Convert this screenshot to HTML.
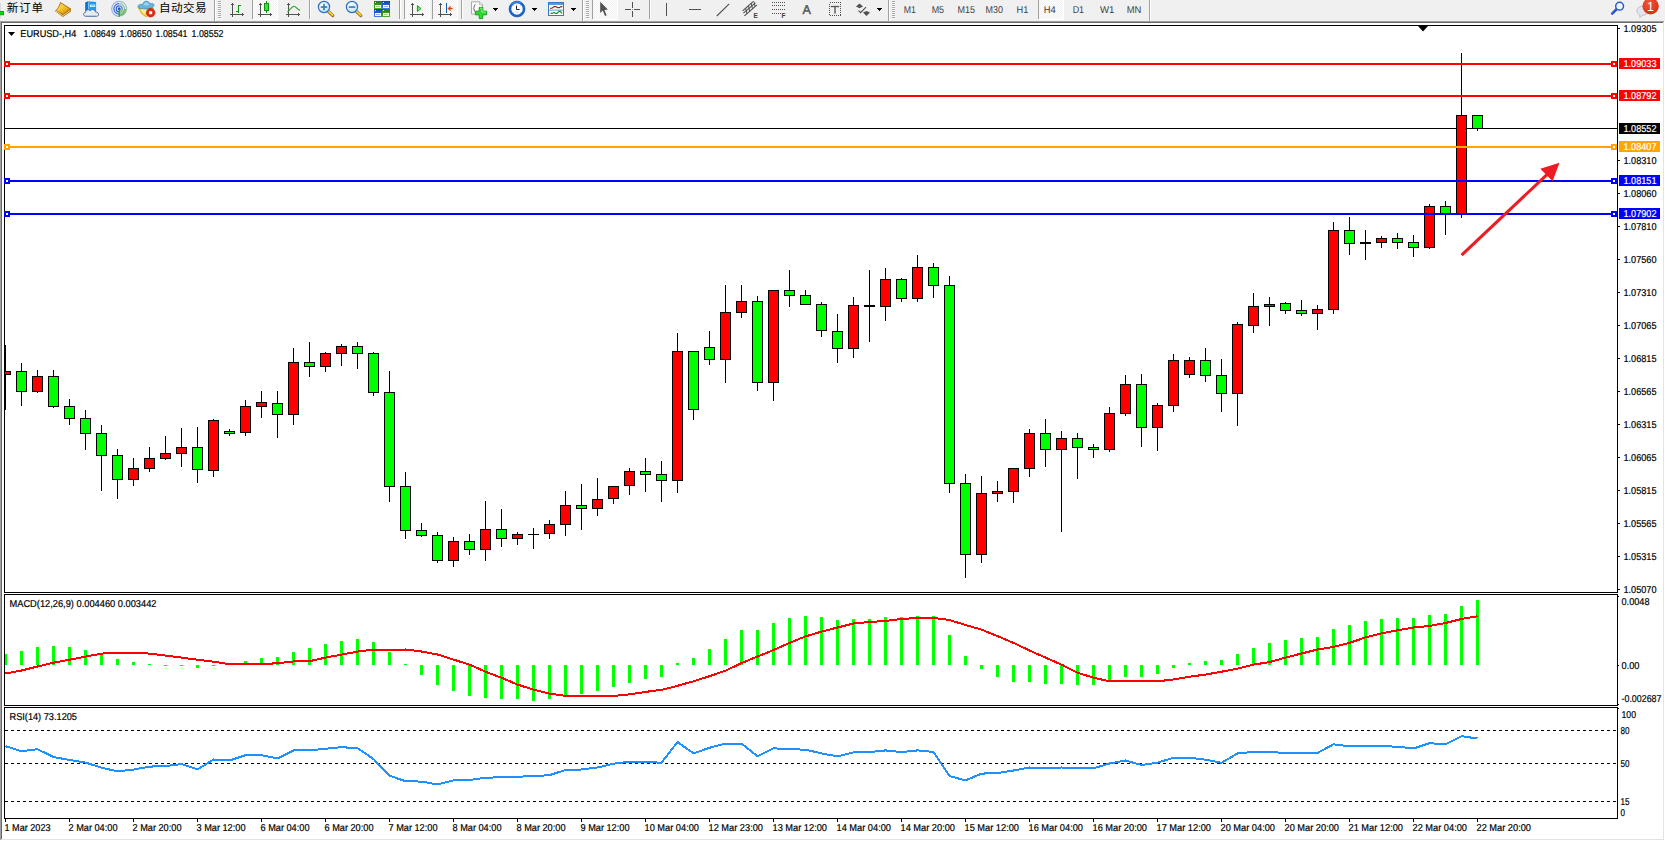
<!DOCTYPE html>
<html><head><meta charset="utf-8"><title>EURUSD H4</title>
<style>
html,body{margin:0;padding:0;}
body{width:1665px;height:841px;overflow:hidden;background:#f0f0f0;position:relative;font-family:"Liberation Sans","Noto Sans CJK SC",sans-serif;}
</style></head><body>
<svg width="1665" height="841" viewBox="0 0 1665 841" style="position:absolute;left:0;top:0">
<g shape-rendering="crispEdges">
<rect x="2" y="23" width="1661" height="816" fill="#ffffff" />
<rect x="0" y="21" width="1664" height="1" fill="#a0a0a0" />
<rect x="0" y="22" width="1663" height="1" fill="#696969" />
<rect x="0" y="21" width="1" height="820" fill="#a0a0a0" />
<rect x="1" y="22" width="1" height="818" fill="#696969" />
<rect x="1663" y="22" width="1" height="818" fill="#e3e3e3" />
<rect x="1664" y="21" width="1" height="820" fill="#ffffff" />
<rect x="1" y="839" width="1663" height="1" fill="#e3e3e3" />
<rect x="0" y="840" width="1665" height="1" fill="#ffffff" />
<rect x="4" y="25" width="1614" height="1" fill="#000" />
<rect x="4" y="25" width="1" height="794" fill="#000" />
<rect x="1617" y="25" width="1" height="794" fill="#000" />
<rect x="4" y="592" width="1614" height="1" fill="#000" />
<rect x="2" y="593" width="1616" height="1" fill="#fff" />
<rect x="4" y="594" width="1614" height="1" fill="#000" />
<rect x="4" y="705" width="1614" height="1" fill="#000" />
<rect x="2" y="706" width="1616" height="1" fill="#fff" />
<rect x="4" y="707" width="1614" height="1" fill="#000" />
<rect x="4" y="818" width="1614" height="1" fill="#000" />
<polygon points="1418,26 1428,26 1423,31.5" fill="#000" shape-rendering="auto"/>
<rect x="5" y="128" width="1612" height="1" fill="#000" />
<rect x="5" y="345" width="1" height="65" fill="#000" />
<rect x="5" y="371" width="6" height="4" fill="#000" />
<rect x="5" y="372" width="5" height="2" fill="#ff0000" />
<rect x="21" y="363" width="1" height="43" fill="#000" />
<rect x="16" y="371" width="11" height="21" fill="#000" />
<rect x="17" y="372" width="9" height="19" fill="#00ff00" />
<rect x="37" y="370" width="1" height="23" fill="#000" />
<rect x="32" y="376" width="11" height="16" fill="#000" />
<rect x="33" y="377" width="9" height="14" fill="#ff0000" />
<rect x="53" y="370" width="1" height="38" fill="#000" />
<rect x="48" y="376" width="11" height="31" fill="#000" />
<rect x="49" y="377" width="9" height="29" fill="#00ff00" />
<rect x="69" y="399" width="1" height="26" fill="#000" />
<rect x="64" y="406" width="11" height="13" fill="#000" />
<rect x="65" y="407" width="9" height="11" fill="#00ff00" />
<rect x="85" y="410" width="1" height="40" fill="#000" />
<rect x="80" y="418" width="11" height="16" fill="#000" />
<rect x="81" y="419" width="9" height="14" fill="#00ff00" />
<rect x="101" y="425" width="1" height="66" fill="#000" />
<rect x="96" y="433" width="11" height="23" fill="#000" />
<rect x="97" y="434" width="9" height="21" fill="#00ff00" />
<rect x="117" y="449" width="1" height="50" fill="#000" />
<rect x="112" y="455" width="11" height="25" fill="#000" />
<rect x="113" y="456" width="9" height="23" fill="#00ff00" />
<rect x="133" y="458" width="1" height="28" fill="#000" />
<rect x="128" y="468" width="11" height="12" fill="#000" />
<rect x="129" y="469" width="9" height="10" fill="#ff0000" />
<rect x="149" y="447" width="1" height="25" fill="#000" />
<rect x="144" y="458" width="11" height="11" fill="#000" />
<rect x="145" y="459" width="9" height="9" fill="#ff0000" />
<rect x="165" y="436" width="1" height="24" fill="#000" />
<rect x="160" y="453" width="11" height="6" fill="#000" />
<rect x="161" y="454" width="9" height="4" fill="#ff0000" />
<rect x="181" y="428" width="1" height="39" fill="#000" />
<rect x="176" y="447" width="11" height="7" fill="#000" />
<rect x="177" y="448" width="9" height="5" fill="#ff0000" />
<rect x="197" y="427" width="1" height="56" fill="#000" />
<rect x="192" y="447" width="11" height="23" fill="#000" />
<rect x="193" y="448" width="9" height="21" fill="#00ff00" />
<rect x="213" y="419" width="1" height="58" fill="#000" />
<rect x="208" y="420" width="11" height="51" fill="#000" />
<rect x="209" y="421" width="9" height="49" fill="#ff0000" />
<rect x="229" y="429" width="1" height="7" fill="#000" />
<rect x="224" y="431" width="11" height="3" fill="#000" />
<rect x="225" y="432" width="9" height="1" fill="#00ff00" />
<rect x="245" y="400" width="1" height="36" fill="#000" />
<rect x="240" y="406" width="11" height="27" fill="#000" />
<rect x="241" y="407" width="9" height="25" fill="#ff0000" />
<rect x="261" y="391" width="1" height="27" fill="#000" />
<rect x="256" y="402" width="11" height="5" fill="#000" />
<rect x="257" y="403" width="9" height="3" fill="#ff0000" />
<rect x="277" y="391" width="1" height="47" fill="#000" />
<rect x="272" y="403" width="11" height="12" fill="#000" />
<rect x="273" y="404" width="9" height="10" fill="#00ff00" />
<rect x="293" y="348" width="1" height="77" fill="#000" />
<rect x="288" y="362" width="11" height="53" fill="#000" />
<rect x="289" y="363" width="9" height="51" fill="#ff0000" />
<rect x="309" y="342" width="1" height="35" fill="#000" />
<rect x="304" y="362" width="11" height="5" fill="#000" />
<rect x="305" y="363" width="9" height="3" fill="#00ff00" />
<rect x="325" y="352" width="1" height="20" fill="#000" />
<rect x="320" y="353" width="11" height="14" fill="#000" />
<rect x="321" y="354" width="9" height="12" fill="#ff0000" />
<rect x="341" y="344" width="1" height="22" fill="#000" />
<rect x="336" y="346" width="11" height="8" fill="#000" />
<rect x="337" y="347" width="9" height="6" fill="#ff0000" />
<rect x="357" y="342" width="1" height="27" fill="#000" />
<rect x="352" y="346" width="11" height="8" fill="#000" />
<rect x="353" y="347" width="9" height="6" fill="#00ff00" />
<rect x="373" y="352" width="1" height="44" fill="#000" />
<rect x="368" y="353" width="11" height="40" fill="#000" />
<rect x="369" y="354" width="9" height="38" fill="#00ff00" />
<rect x="389" y="371" width="1" height="131" fill="#000" />
<rect x="384" y="392" width="11" height="95" fill="#000" />
<rect x="385" y="393" width="9" height="93" fill="#00ff00" />
<rect x="405" y="472" width="1" height="67" fill="#000" />
<rect x="400" y="486" width="11" height="45" fill="#000" />
<rect x="401" y="487" width="9" height="43" fill="#00ff00" />
<rect x="421" y="523" width="1" height="14" fill="#000" />
<rect x="416" y="530" width="11" height="6" fill="#000" />
<rect x="417" y="531" width="9" height="4" fill="#00ff00" />
<rect x="437" y="532" width="1" height="31" fill="#000" />
<rect x="432" y="535" width="11" height="26" fill="#000" />
<rect x="433" y="536" width="9" height="24" fill="#00ff00" />
<rect x="453" y="537" width="1" height="30" fill="#000" />
<rect x="448" y="541" width="11" height="20" fill="#000" />
<rect x="449" y="542" width="9" height="18" fill="#ff0000" />
<rect x="469" y="534" width="1" height="21" fill="#000" />
<rect x="464" y="541" width="11" height="9" fill="#000" />
<rect x="465" y="542" width="9" height="7" fill="#00ff00" />
<rect x="485" y="501" width="1" height="60" fill="#000" />
<rect x="480" y="529" width="11" height="21" fill="#000" />
<rect x="481" y="530" width="9" height="19" fill="#ff0000" />
<rect x="501" y="509" width="1" height="38" fill="#000" />
<rect x="496" y="529" width="11" height="10" fill="#000" />
<rect x="497" y="530" width="9" height="8" fill="#00ff00" />
<rect x="517" y="532" width="1" height="13" fill="#000" />
<rect x="512" y="534" width="11" height="5" fill="#000" />
<rect x="513" y="535" width="9" height="3" fill="#ff0000" />
<rect x="533" y="528" width="1" height="21" fill="#000" />
<rect x="528" y="534" width="11" height="1" fill="#000" />
<rect x="549" y="520" width="1" height="19" fill="#000" />
<rect x="544" y="524" width="11" height="10" fill="#000" />
<rect x="545" y="525" width="9" height="8" fill="#ff0000" />
<rect x="565" y="491" width="1" height="45" fill="#000" />
<rect x="560" y="505" width="11" height="20" fill="#000" />
<rect x="561" y="506" width="9" height="18" fill="#ff0000" />
<rect x="581" y="484" width="1" height="46" fill="#000" />
<rect x="576" y="505" width="11" height="4" fill="#000" />
<rect x="577" y="506" width="9" height="2" fill="#00ff00" />
<rect x="597" y="478" width="1" height="38" fill="#000" />
<rect x="592" y="499" width="11" height="10" fill="#000" />
<rect x="593" y="500" width="9" height="8" fill="#ff0000" />
<rect x="613" y="486" width="1" height="18" fill="#000" />
<rect x="608" y="486" width="11" height="13" fill="#000" />
<rect x="609" y="487" width="9" height="11" fill="#ff0000" />
<rect x="629" y="468" width="1" height="27" fill="#000" />
<rect x="624" y="471" width="11" height="15" fill="#000" />
<rect x="625" y="472" width="9" height="13" fill="#ff0000" />
<rect x="645" y="458" width="1" height="34" fill="#000" />
<rect x="640" y="471" width="11" height="4" fill="#000" />
<rect x="641" y="472" width="9" height="2" fill="#00ff00" />
<rect x="661" y="461" width="1" height="41" fill="#000" />
<rect x="656" y="474" width="11" height="7" fill="#000" />
<rect x="657" y="475" width="9" height="5" fill="#00ff00" />
<rect x="677" y="333" width="1" height="160" fill="#000" />
<rect x="672" y="351" width="11" height="130" fill="#000" />
<rect x="673" y="352" width="9" height="128" fill="#ff0000" />
<rect x="693" y="351" width="1" height="69" fill="#000" />
<rect x="688" y="351" width="11" height="59" fill="#000" />
<rect x="689" y="352" width="9" height="57" fill="#00ff00" />
<rect x="709" y="331" width="1" height="34" fill="#000" />
<rect x="704" y="347" width="11" height="13" fill="#000" />
<rect x="705" y="348" width="9" height="11" fill="#00ff00" />
<rect x="725" y="285" width="1" height="98" fill="#000" />
<rect x="720" y="312" width="11" height="48" fill="#000" />
<rect x="721" y="313" width="9" height="46" fill="#ff0000" />
<rect x="741" y="285" width="1" height="33" fill="#000" />
<rect x="736" y="301" width="11" height="12" fill="#000" />
<rect x="737" y="302" width="9" height="10" fill="#ff0000" />
<rect x="757" y="296" width="1" height="95" fill="#000" />
<rect x="752" y="301" width="11" height="82" fill="#000" />
<rect x="753" y="302" width="9" height="80" fill="#00ff00" />
<rect x="773" y="290" width="1" height="111" fill="#000" />
<rect x="768" y="290" width="11" height="93" fill="#000" />
<rect x="769" y="291" width="9" height="91" fill="#ff0000" />
<rect x="789" y="270" width="1" height="37" fill="#000" />
<rect x="784" y="290" width="11" height="6" fill="#000" />
<rect x="785" y="291" width="9" height="4" fill="#00ff00" />
<rect x="805" y="290" width="1" height="15" fill="#000" />
<rect x="800" y="295" width="11" height="10" fill="#000" />
<rect x="801" y="296" width="9" height="8" fill="#00ff00" />
<rect x="821" y="302" width="1" height="35" fill="#000" />
<rect x="816" y="304" width="11" height="27" fill="#000" />
<rect x="817" y="305" width="9" height="25" fill="#00ff00" />
<rect x="837" y="314" width="1" height="49" fill="#000" />
<rect x="832" y="331" width="11" height="18" fill="#000" />
<rect x="833" y="332" width="9" height="16" fill="#00ff00" />
<rect x="853" y="297" width="1" height="61" fill="#000" />
<rect x="848" y="305" width="11" height="44" fill="#000" />
<rect x="849" y="306" width="9" height="42" fill="#ff0000" />
<rect x="869" y="270" width="1" height="72" fill="#000" />
<rect x="864" y="305" width="11" height="2" fill="#000" />
<rect x="885" y="268" width="1" height="53" fill="#000" />
<rect x="880" y="279" width="11" height="28" fill="#000" />
<rect x="881" y="280" width="9" height="26" fill="#ff0000" />
<rect x="901" y="278" width="1" height="24" fill="#000" />
<rect x="896" y="279" width="11" height="20" fill="#000" />
<rect x="897" y="280" width="9" height="18" fill="#00ff00" />
<rect x="917" y="255" width="1" height="47" fill="#000" />
<rect x="912" y="267" width="11" height="32" fill="#000" />
<rect x="913" y="268" width="9" height="30" fill="#ff0000" />
<rect x="933" y="263" width="1" height="35" fill="#000" />
<rect x="928" y="267" width="11" height="19" fill="#000" />
<rect x="929" y="268" width="9" height="17" fill="#00ff00" />
<rect x="949" y="276" width="1" height="217" fill="#000" />
<rect x="944" y="285" width="11" height="199" fill="#000" />
<rect x="945" y="286" width="9" height="197" fill="#00ff00" />
<rect x="965" y="474" width="1" height="104" fill="#000" />
<rect x="960" y="483" width="11" height="72" fill="#000" />
<rect x="961" y="484" width="9" height="70" fill="#00ff00" />
<rect x="981" y="476" width="1" height="87" fill="#000" />
<rect x="976" y="493" width="11" height="62" fill="#000" />
<rect x="977" y="494" width="9" height="60" fill="#ff0000" />
<rect x="997" y="481" width="1" height="21" fill="#000" />
<rect x="992" y="491" width="11" height="3" fill="#000" />
<rect x="993" y="492" width="9" height="1" fill="#ff0000" />
<rect x="1013" y="468" width="1" height="35" fill="#000" />
<rect x="1008" y="468" width="11" height="24" fill="#000" />
<rect x="1009" y="469" width="9" height="22" fill="#ff0000" />
<rect x="1029" y="429" width="1" height="48" fill="#000" />
<rect x="1024" y="433" width="11" height="36" fill="#000" />
<rect x="1025" y="434" width="9" height="34" fill="#ff0000" />
<rect x="1045" y="419" width="1" height="48" fill="#000" />
<rect x="1040" y="433" width="11" height="17" fill="#000" />
<rect x="1041" y="434" width="9" height="15" fill="#00ff00" />
<rect x="1061" y="431" width="1" height="101" fill="#000" />
<rect x="1056" y="438" width="11" height="12" fill="#000" />
<rect x="1057" y="439" width="9" height="10" fill="#ff0000" />
<rect x="1077" y="433" width="1" height="46" fill="#000" />
<rect x="1072" y="438" width="11" height="10" fill="#000" />
<rect x="1073" y="439" width="9" height="8" fill="#00ff00" />
<rect x="1093" y="444" width="1" height="14" fill="#000" />
<rect x="1088" y="447" width="11" height="3" fill="#000" />
<rect x="1089" y="448" width="9" height="1" fill="#00ff00" />
<rect x="1109" y="407" width="1" height="45" fill="#000" />
<rect x="1104" y="413" width="11" height="37" fill="#000" />
<rect x="1105" y="414" width="9" height="35" fill="#ff0000" />
<rect x="1125" y="375" width="1" height="41" fill="#000" />
<rect x="1120" y="384" width="11" height="30" fill="#000" />
<rect x="1121" y="385" width="9" height="28" fill="#ff0000" />
<rect x="1141" y="374" width="1" height="73" fill="#000" />
<rect x="1136" y="384" width="11" height="44" fill="#000" />
<rect x="1137" y="385" width="9" height="42" fill="#00ff00" />
<rect x="1157" y="403" width="1" height="48" fill="#000" />
<rect x="1152" y="405" width="11" height="23" fill="#000" />
<rect x="1153" y="406" width="9" height="21" fill="#ff0000" />
<rect x="1173" y="354" width="1" height="58" fill="#000" />
<rect x="1168" y="360" width="11" height="46" fill="#000" />
<rect x="1169" y="361" width="9" height="44" fill="#ff0000" />
<rect x="1189" y="357" width="1" height="21" fill="#000" />
<rect x="1184" y="360" width="11" height="15" fill="#000" />
<rect x="1185" y="361" width="9" height="13" fill="#ff0000" />
<rect x="1205" y="348" width="1" height="34" fill="#000" />
<rect x="1200" y="360" width="11" height="16" fill="#000" />
<rect x="1201" y="361" width="9" height="14" fill="#00ff00" />
<rect x="1221" y="359" width="1" height="53" fill="#000" />
<rect x="1216" y="375" width="11" height="19" fill="#000" />
<rect x="1217" y="376" width="9" height="17" fill="#00ff00" />
<rect x="1237" y="322" width="1" height="104" fill="#000" />
<rect x="1232" y="324" width="11" height="70" fill="#000" />
<rect x="1233" y="325" width="9" height="68" fill="#ff0000" />
<rect x="1253" y="293" width="1" height="40" fill="#000" />
<rect x="1248" y="306" width="11" height="20" fill="#000" />
<rect x="1249" y="307" width="9" height="18" fill="#ff0000" />
<rect x="1269" y="297" width="1" height="29" fill="#000" />
<rect x="1264" y="304" width="11" height="3" fill="#000" />
<rect x="1265" y="305" width="9" height="1" fill="#ff0000" />
<rect x="1285" y="302" width="1" height="12" fill="#000" />
<rect x="1280" y="303" width="11" height="8" fill="#000" />
<rect x="1281" y="304" width="9" height="6" fill="#00ff00" />
<rect x="1301" y="300" width="1" height="16" fill="#000" />
<rect x="1296" y="310" width="11" height="4" fill="#000" />
<rect x="1297" y="311" width="9" height="2" fill="#00ff00" />
<rect x="1317" y="305" width="1" height="25" fill="#000" />
<rect x="1312" y="309" width="11" height="5" fill="#000" />
<rect x="1313" y="310" width="9" height="3" fill="#ff0000" />
<rect x="1333" y="222" width="1" height="92" fill="#000" />
<rect x="1328" y="230" width="11" height="80" fill="#000" />
<rect x="1329" y="231" width="9" height="78" fill="#ff0000" />
<rect x="1349" y="217" width="1" height="38" fill="#000" />
<rect x="1344" y="230" width="11" height="14" fill="#000" />
<rect x="1345" y="231" width="9" height="12" fill="#00ff00" />
<rect x="1365" y="230" width="1" height="30" fill="#000" />
<rect x="1360" y="242" width="11" height="2" fill="#000" />
<rect x="1381" y="236" width="1" height="12" fill="#000" />
<rect x="1376" y="238" width="11" height="5" fill="#000" />
<rect x="1377" y="239" width="9" height="3" fill="#ff0000" />
<rect x="1397" y="233" width="1" height="16" fill="#000" />
<rect x="1392" y="238" width="11" height="5" fill="#000" />
<rect x="1393" y="239" width="9" height="3" fill="#00ff00" />
<rect x="1413" y="235" width="1" height="22" fill="#000" />
<rect x="1408" y="242" width="11" height="6" fill="#000" />
<rect x="1409" y="243" width="9" height="4" fill="#00ff00" />
<rect x="1429" y="204" width="1" height="45" fill="#000" />
<rect x="1424" y="206" width="11" height="42" fill="#000" />
<rect x="1425" y="207" width="9" height="40" fill="#ff0000" />
<rect x="1445" y="201" width="1" height="34" fill="#000" />
<rect x="1440" y="206" width="11" height="8" fill="#000" />
<rect x="1441" y="207" width="9" height="6" fill="#00ff00" />
<rect x="1461" y="53" width="1" height="165" fill="#000" />
<rect x="1456" y="115" width="11" height="100" fill="#000" />
<rect x="1457" y="116" width="9" height="98" fill="#ff0000" />
<rect x="1477" y="115" width="1" height="16" fill="#000" />
<rect x="1472" y="115" width="11" height="14" fill="#000" />
<rect x="1473" y="116" width="9" height="12" fill="#00ff00" />
<rect x="5" y="63" width="1612" height="2" fill="#ff0000" />
<rect x="4" y="61" width="6" height="6" fill="#ff0000" />
<rect x="6" y="63" width="2" height="2" fill="#fff" />
<rect x="1611" y="61" width="6" height="6" fill="#ff0000" />
<rect x="1613" y="63" width="2" height="2" fill="#fff" />
<rect x="1619" y="58" width="41" height="11" fill="#ff0000" />
<rect x="5" y="95" width="1612" height="2" fill="#ff0000" />
<rect x="4" y="93" width="6" height="6" fill="#ff0000" />
<rect x="6" y="95" width="2" height="2" fill="#fff" />
<rect x="1611" y="93" width="6" height="6" fill="#ff0000" />
<rect x="1613" y="95" width="2" height="2" fill="#fff" />
<rect x="1619" y="90" width="41" height="11" fill="#ff0000" />
<rect x="5" y="146" width="1612" height="2" fill="#ffa500" />
<rect x="4" y="144" width="6" height="6" fill="#ffa500" />
<rect x="6" y="146" width="2" height="2" fill="#fff" />
<rect x="1611" y="144" width="6" height="6" fill="#ffa500" />
<rect x="1613" y="146" width="2" height="2" fill="#fff" />
<rect x="1619" y="141" width="41" height="11" fill="#ffa500" />
<rect x="5" y="180" width="1612" height="2" fill="#0000ff" />
<rect x="4" y="178" width="6" height="6" fill="#0000ff" />
<rect x="6" y="180" width="2" height="2" fill="#fff" />
<rect x="1611" y="178" width="6" height="6" fill="#0000ff" />
<rect x="1613" y="180" width="2" height="2" fill="#fff" />
<rect x="1619" y="175" width="41" height="11" fill="#0000ff" />
<rect x="5" y="213" width="1612" height="2" fill="#0000ff" />
<rect x="4" y="211" width="6" height="6" fill="#0000ff" />
<rect x="6" y="213" width="2" height="2" fill="#fff" />
<rect x="1611" y="211" width="6" height="6" fill="#0000ff" />
<rect x="1613" y="213" width="2" height="2" fill="#fff" />
<rect x="1619" y="208" width="41" height="11" fill="#0000ff" />
<rect x="1619" y="123" width="41" height="11" fill="#000" />
<rect x="1618" y="28" width="2" height="1" fill="#000" />
<rect x="1618" y="160" width="2" height="1" fill="#000" />
<rect x="1618" y="193" width="2" height="1" fill="#000" />
<rect x="1618" y="226" width="2" height="1" fill="#000" />
<rect x="1618" y="259" width="2" height="1" fill="#000" />
<rect x="1618" y="292" width="2" height="1" fill="#000" />
<rect x="1618" y="325" width="2" height="1" fill="#000" />
<rect x="1618" y="358" width="2" height="1" fill="#000" />
<rect x="1618" y="391" width="2" height="1" fill="#000" />
<rect x="1618" y="424" width="2" height="1" fill="#000" />
<rect x="1618" y="457" width="2" height="1" fill="#000" />
<rect x="1618" y="490" width="2" height="1" fill="#000" />
<rect x="1618" y="523" width="2" height="1" fill="#000" />
<rect x="1618" y="556" width="2" height="1" fill="#000" />
<rect x="1618" y="589" width="2" height="1" fill="#000" />
<rect x="1618" y="596" width="1" height="1" fill="#000" />
<rect x="1618" y="665" width="1" height="1" fill="#000" />
<rect x="1618" y="704" width="1" height="1" fill="#000" />
<rect x="1618" y="708" width="1" height="1" fill="#000" />
<rect x="5" y="654" width="2" height="11" fill="#00ff00" />
<rect x="20" y="651" width="3" height="14" fill="#00ff00" />
<rect x="36" y="647" width="3" height="18" fill="#00ff00" />
<rect x="52" y="646" width="3" height="19" fill="#00ff00" />
<rect x="68" y="647" width="3" height="18" fill="#00ff00" />
<rect x="84" y="650" width="3" height="15" fill="#00ff00" />
<rect x="100" y="654" width="3" height="11" fill="#00ff00" />
<rect x="116" y="659" width="3" height="6" fill="#00ff00" />
<rect x="132" y="662" width="3" height="3" fill="#00ff00" />
<rect x="148" y="664" width="3" height="1" fill="#00ff00" />
<rect x="164" y="665" width="3" height="1" fill="#00ff00" />
<rect x="180" y="665" width="3" height="1" fill="#00ff00" />
<rect x="196" y="665" width="3" height="3" fill="#00ff00" />
<rect x="212" y="665" width="3" height="1" fill="#00ff00" />
<rect x="228" y="664" width="3" height="1" fill="#00ff00" />
<rect x="244" y="661" width="3" height="4" fill="#00ff00" />
<rect x="260" y="658" width="3" height="7" fill="#00ff00" />
<rect x="276" y="657" width="3" height="8" fill="#00ff00" />
<rect x="292" y="652" width="3" height="13" fill="#00ff00" />
<rect x="308" y="648" width="3" height="17" fill="#00ff00" />
<rect x="324" y="644" width="3" height="21" fill="#00ff00" />
<rect x="340" y="641" width="3" height="24" fill="#00ff00" />
<rect x="356" y="639" width="3" height="26" fill="#00ff00" />
<rect x="372" y="642" width="3" height="23" fill="#00ff00" />
<rect x="388" y="652" width="3" height="13" fill="#00ff00" />
<rect x="404" y="664" width="3" height="1" fill="#00ff00" />
<rect x="420" y="665" width="3" height="10" fill="#00ff00" />
<rect x="436" y="665" width="3" height="20" fill="#00ff00" />
<rect x="452" y="665" width="3" height="26" fill="#00ff00" />
<rect x="468" y="665" width="3" height="31" fill="#00ff00" />
<rect x="484" y="665" width="3" height="33" fill="#00ff00" />
<rect x="500" y="665" width="3" height="34" fill="#00ff00" />
<rect x="516" y="665" width="3" height="34" fill="#00ff00" />
<rect x="532" y="665" width="3" height="36" fill="#00ff00" />
<rect x="548" y="665" width="3" height="34" fill="#00ff00" />
<rect x="564" y="665" width="3" height="32" fill="#00ff00" />
<rect x="580" y="665" width="3" height="29" fill="#00ff00" />
<rect x="596" y="665" width="3" height="26" fill="#00ff00" />
<rect x="612" y="665" width="3" height="22" fill="#00ff00" />
<rect x="628" y="665" width="3" height="18" fill="#00ff00" />
<rect x="644" y="665" width="3" height="14" fill="#00ff00" />
<rect x="660" y="665" width="3" height="12" fill="#00ff00" />
<rect x="676" y="663" width="3" height="2" fill="#00ff00" />
<rect x="692" y="658" width="3" height="7" fill="#00ff00" />
<rect x="708" y="649" width="3" height="16" fill="#00ff00" />
<rect x="724" y="639" width="3" height="26" fill="#00ff00" />
<rect x="740" y="630" width="3" height="35" fill="#00ff00" />
<rect x="756" y="630" width="3" height="35" fill="#00ff00" />
<rect x="772" y="623" width="3" height="42" fill="#00ff00" />
<rect x="788" y="618" width="3" height="47" fill="#00ff00" />
<rect x="804" y="616" width="3" height="49" fill="#00ff00" />
<rect x="820" y="617" width="3" height="48" fill="#00ff00" />
<rect x="836" y="620" width="3" height="45" fill="#00ff00" />
<rect x="852" y="619" width="3" height="46" fill="#00ff00" />
<rect x="868" y="619" width="3" height="46" fill="#00ff00" />
<rect x="884" y="617" width="3" height="48" fill="#00ff00" />
<rect x="900" y="617" width="3" height="48" fill="#00ff00" />
<rect x="916" y="616" width="3" height="49" fill="#00ff00" />
<rect x="932" y="616" width="3" height="49" fill="#00ff00" />
<rect x="948" y="635" width="3" height="30" fill="#00ff00" />
<rect x="964" y="656" width="3" height="9" fill="#00ff00" />
<rect x="980" y="665" width="3" height="4" fill="#00ff00" />
<rect x="996" y="665" width="3" height="12" fill="#00ff00" />
<rect x="1012" y="665" width="3" height="17" fill="#00ff00" />
<rect x="1028" y="665" width="3" height="17" fill="#00ff00" />
<rect x="1044" y="665" width="3" height="19" fill="#00ff00" />
<rect x="1060" y="665" width="3" height="19" fill="#00ff00" />
<rect x="1076" y="665" width="3" height="20" fill="#00ff00" />
<rect x="1092" y="665" width="3" height="20" fill="#00ff00" />
<rect x="1108" y="665" width="3" height="16" fill="#00ff00" />
<rect x="1124" y="665" width="3" height="12" fill="#00ff00" />
<rect x="1140" y="665" width="3" height="12" fill="#00ff00" />
<rect x="1156" y="665" width="3" height="9" fill="#00ff00" />
<rect x="1172" y="665" width="3" height="3" fill="#00ff00" />
<rect x="1188" y="663" width="3" height="2" fill="#00ff00" />
<rect x="1204" y="661" width="3" height="4" fill="#00ff00" />
<rect x="1220" y="660" width="3" height="5" fill="#00ff00" />
<rect x="1236" y="654" width="3" height="11" fill="#00ff00" />
<rect x="1252" y="648" width="3" height="17" fill="#00ff00" />
<rect x="1268" y="643" width="3" height="22" fill="#00ff00" />
<rect x="1284" y="640" width="3" height="25" fill="#00ff00" />
<rect x="1300" y="638" width="3" height="27" fill="#00ff00" />
<rect x="1316" y="637" width="3" height="28" fill="#00ff00" />
<rect x="1332" y="629" width="3" height="36" fill="#00ff00" />
<rect x="1348" y="625" width="3" height="40" fill="#00ff00" />
<rect x="1364" y="621" width="3" height="44" fill="#00ff00" />
<rect x="1380" y="619" width="3" height="46" fill="#00ff00" />
<rect x="1396" y="618" width="3" height="47" fill="#00ff00" />
<rect x="1412" y="618" width="3" height="47" fill="#00ff00" />
<rect x="1428" y="615" width="3" height="50" fill="#00ff00" />
<rect x="1444" y="614" width="3" height="51" fill="#00ff00" />
<rect x="1460" y="606" width="3" height="59" fill="#00ff00" />
<rect x="1476" y="600" width="3" height="65" fill="#00ff00" />
<line x1="5" y1="730.5" x2="1617" y2="730.5" stroke="#000" stroke-width="1" stroke-dasharray="3 3"/>
<line x1="5" y1="763.5" x2="1617" y2="763.5" stroke="#000" stroke-width="1" stroke-dasharray="3 3"/>
<line x1="5" y1="801.5" x2="1617" y2="801.5" stroke="#000" stroke-width="1" stroke-dasharray="3 3"/>
<rect x="5" y="819" width="1" height="3" fill="#000" />
<rect x="69" y="819" width="1" height="3" fill="#000" />
<rect x="133" y="819" width="1" height="3" fill="#000" />
<rect x="197" y="819" width="1" height="3" fill="#000" />
<rect x="261" y="819" width="1" height="3" fill="#000" />
<rect x="325" y="819" width="1" height="3" fill="#000" />
<rect x="389" y="819" width="1" height="3" fill="#000" />
<rect x="453" y="819" width="1" height="3" fill="#000" />
<rect x="517" y="819" width="1" height="3" fill="#000" />
<rect x="581" y="819" width="1" height="3" fill="#000" />
<rect x="645" y="819" width="1" height="3" fill="#000" />
<rect x="709" y="819" width="1" height="3" fill="#000" />
<rect x="773" y="819" width="1" height="3" fill="#000" />
<rect x="837" y="819" width="1" height="3" fill="#000" />
<rect x="901" y="819" width="1" height="3" fill="#000" />
<rect x="965" y="819" width="1" height="3" fill="#000" />
<rect x="1029" y="819" width="1" height="3" fill="#000" />
<rect x="1093" y="819" width="1" height="3" fill="#000" />
<rect x="1157" y="819" width="1" height="3" fill="#000" />
<rect x="1221" y="819" width="1" height="3" fill="#000" />
<rect x="1285" y="819" width="1" height="3" fill="#000" />
<rect x="1349" y="819" width="1" height="3" fill="#000" />
<rect x="1413" y="819" width="1" height="3" fill="#000" />
<rect x="1477" y="819" width="1" height="3" fill="#000" />
</g>
<polyline points="5.5,673.5 21.5,670.5 37.5,666.5 53.5,662.7 69.5,659.7 85.5,656.6 101.5,653.6 117.5,652.6 133.5,652.6 149.5,653.6 165.5,655.6 181.5,657.6 197.5,659.7 213.5,661.7 229.5,664.2 245.5,664.2 261.5,664.2 277.5,663.2 293.5,661.4 309.5,661.2 325.5,657.6 341.5,654.6 357.5,651.6 373.5,649.6 389.5,649.6 405.5,649.5 421.5,651.5 437.5,654.5 453.5,659.6 469.5,664.6 485.5,671.7 501.5,677.7 517.5,684.6 533.5,689.6 549.5,693.6 565.5,695.9 581.5,696.2 597.5,696.2 613.5,695.9 629.5,694.4 645.5,691.9 661.5,689.8 677.5,685.8 693.5,681.3 709.5,676.2 725.5,670.7 741.5,663.1 757.5,656.5 773.5,650.0 789.5,642.9 805.5,636.4 821.5,631.6 837.5,627.5 853.5,623.5 869.5,622.0 885.5,621.0 901.5,619.0 917.5,618.0 933.5,618.0 949.5,620.0 965.5,625.0 981.5,629.6 997.5,636.1 1013.5,642.9 1029.5,650.5 1045.5,657.6 1061.5,664.6 1077.5,672.7 1093.5,677.7 1109.5,681.3 1125.5,681.3 1141.5,681.3 1157.5,681.3 1173.5,679.5 1189.5,676.7 1205.5,674.6 1221.5,671.7 1237.5,668.7 1253.5,664.6 1269.5,662.1 1285.5,657.6 1301.5,653.5 1317.5,649.5 1333.5,647.0 1349.5,642.9 1365.5,637.4 1381.5,633.3 1397.5,630.3 1413.5,627.5 1429.5,626.0 1445.5,623.0 1461.5,619.0 1477.5,616.2" fill="none" stroke="#ff0000" stroke-width="2" stroke-linejoin="round" shape-rendering="crispEdges"/>
<polyline points="5.5,746.2 21.5,751.2 37.5,749.2 53.5,757.0 69.5,760.0 85.5,762.6 101.5,767.6 117.5,771.4 133.5,769.6 149.5,766.6 165.5,766.1 181.5,764.1 197.5,769.4 213.5,759.5 229.5,760.5 245.5,755.2 261.5,755.2 277.5,758.5 293.5,750.4 309.5,750.4 325.5,748.7 341.5,747.2 357.5,748.2 373.5,759.0 389.5,775.7 405.5,781.2 421.5,781.6 437.5,784.4 453.5,780.4 469.5,780.1 485.5,777.6 501.5,777.4 517.5,776.6 533.5,776.3 549.5,775.1 565.5,770.0 581.5,769.5 597.5,767.5 613.5,763.7 629.5,761.7 645.5,762.0 661.5,762.7 677.5,742.0 693.5,753.4 709.5,747.8 725.5,743.5 741.5,743.5 757.5,756.4 773.5,748.3 789.5,749.3 805.5,749.6 821.5,753.4 837.5,756.4 853.5,752.4 869.5,752.1 885.5,750.4 901.5,752.1 917.5,750.4 933.5,751.9 949.5,776.1 965.5,780.4 981.5,773.6 997.5,773.1 1013.5,770.5 1029.5,767.5 1045.5,768.5 1061.5,767.5 1077.5,768.3 1093.5,768.3 1109.5,763.5 1125.5,760.5 1141.5,765.0 1157.5,762.7 1173.5,757.7 1189.5,757.7 1205.5,759.7 1221.5,762.8 1237.5,753.5 1253.5,751.9 1269.5,751.9 1285.5,753.0 1301.5,753.0 1317.5,753.0 1333.5,744.3 1349.5,746.3 1365.5,746.3 1381.5,746.3 1397.5,746.6 1413.5,748.5 1429.5,743.2 1445.5,744.3 1461.5,736.2 1477.5,738.5" fill="none" stroke="#1e90ff" stroke-width="2" stroke-linejoin="round" shape-rendering="crispEdges"/>
<line x1="1461.6" y1="255.2" x2="1548" y2="173.6" stroke="#ed1c24" stroke-width="3"/>
<polygon points="1559.5,162.8 1540.3,168.8 1552.6,181.2" fill="#ed1c24"/>
<text x="1623.5" y="32" font-family="Liberation Sans, sans-serif" text-rendering="geometricPrecision" font-size="10" fill="#000" stroke="#000" stroke-width="0.2" text-anchor="start" textLength="33" lengthAdjust="spacingAndGlyphs" >1.09305</text>
<text x="1623.5" y="164" font-family="Liberation Sans, sans-serif" text-rendering="geometricPrecision" font-size="10" fill="#000" stroke="#000" stroke-width="0.2" text-anchor="start" textLength="33" lengthAdjust="spacingAndGlyphs" >1.08310</text>
<text x="1623.5" y="197" font-family="Liberation Sans, sans-serif" text-rendering="geometricPrecision" font-size="10" fill="#000" stroke="#000" stroke-width="0.2" text-anchor="start" textLength="33" lengthAdjust="spacingAndGlyphs" >1.08060</text>
<text x="1623.5" y="230" font-family="Liberation Sans, sans-serif" text-rendering="geometricPrecision" font-size="10" fill="#000" stroke="#000" stroke-width="0.2" text-anchor="start" textLength="33" lengthAdjust="spacingAndGlyphs" >1.07810</text>
<text x="1623.5" y="263" font-family="Liberation Sans, sans-serif" text-rendering="geometricPrecision" font-size="10" fill="#000" stroke="#000" stroke-width="0.2" text-anchor="start" textLength="33" lengthAdjust="spacingAndGlyphs" >1.07560</text>
<text x="1623.5" y="296" font-family="Liberation Sans, sans-serif" text-rendering="geometricPrecision" font-size="10" fill="#000" stroke="#000" stroke-width="0.2" text-anchor="start" textLength="33" lengthAdjust="spacingAndGlyphs" >1.07310</text>
<text x="1623.5" y="329" font-family="Liberation Sans, sans-serif" text-rendering="geometricPrecision" font-size="10" fill="#000" stroke="#000" stroke-width="0.2" text-anchor="start" textLength="33" lengthAdjust="spacingAndGlyphs" >1.07065</text>
<text x="1623.5" y="362" font-family="Liberation Sans, sans-serif" text-rendering="geometricPrecision" font-size="10" fill="#000" stroke="#000" stroke-width="0.2" text-anchor="start" textLength="33" lengthAdjust="spacingAndGlyphs" >1.06815</text>
<text x="1623.5" y="395" font-family="Liberation Sans, sans-serif" text-rendering="geometricPrecision" font-size="10" fill="#000" stroke="#000" stroke-width="0.2" text-anchor="start" textLength="33" lengthAdjust="spacingAndGlyphs" >1.06565</text>
<text x="1623.5" y="428" font-family="Liberation Sans, sans-serif" text-rendering="geometricPrecision" font-size="10" fill="#000" stroke="#000" stroke-width="0.2" text-anchor="start" textLength="33" lengthAdjust="spacingAndGlyphs" >1.06315</text>
<text x="1623.5" y="461" font-family="Liberation Sans, sans-serif" text-rendering="geometricPrecision" font-size="10" fill="#000" stroke="#000" stroke-width="0.2" text-anchor="start" textLength="33" lengthAdjust="spacingAndGlyphs" >1.06065</text>
<text x="1623.5" y="494" font-family="Liberation Sans, sans-serif" text-rendering="geometricPrecision" font-size="10" fill="#000" stroke="#000" stroke-width="0.2" text-anchor="start" textLength="33" lengthAdjust="spacingAndGlyphs" >1.05815</text>
<text x="1623.5" y="527" font-family="Liberation Sans, sans-serif" text-rendering="geometricPrecision" font-size="10" fill="#000" stroke="#000" stroke-width="0.2" text-anchor="start" textLength="33" lengthAdjust="spacingAndGlyphs" >1.05565</text>
<text x="1623.5" y="560" font-family="Liberation Sans, sans-serif" text-rendering="geometricPrecision" font-size="10" fill="#000" stroke="#000" stroke-width="0.2" text-anchor="start" textLength="33" lengthAdjust="spacingAndGlyphs" >1.05315</text>
<text x="1623.5" y="593" font-family="Liberation Sans, sans-serif" text-rendering="geometricPrecision" font-size="10" fill="#000" stroke="#000" stroke-width="0.2" text-anchor="start" textLength="33" lengthAdjust="spacingAndGlyphs" >1.05070</text>
<text x="1623.5" y="67" font-family="Liberation Sans, sans-serif" text-rendering="geometricPrecision" font-size="10" fill="#fff" stroke="#fff" stroke-width="0.2" text-anchor="start" textLength="33" lengthAdjust="spacingAndGlyphs" >1.09033</text>
<text x="1623.5" y="99" font-family="Liberation Sans, sans-serif" text-rendering="geometricPrecision" font-size="10" fill="#fff" stroke="#fff" stroke-width="0.2" text-anchor="start" textLength="33" lengthAdjust="spacingAndGlyphs" >1.08792</text>
<text x="1623.5" y="150" font-family="Liberation Sans, sans-serif" text-rendering="geometricPrecision" font-size="10" fill="#fff" stroke="#fff" stroke-width="0.2" text-anchor="start" textLength="33" lengthAdjust="spacingAndGlyphs" >1.08407</text>
<text x="1623.5" y="184" font-family="Liberation Sans, sans-serif" text-rendering="geometricPrecision" font-size="10" fill="#fff" stroke="#fff" stroke-width="0.2" text-anchor="start" textLength="33" lengthAdjust="spacingAndGlyphs" >1.08151</text>
<text x="1623.5" y="217" font-family="Liberation Sans, sans-serif" text-rendering="geometricPrecision" font-size="10" fill="#fff" stroke="#fff" stroke-width="0.2" text-anchor="start" textLength="33" lengthAdjust="spacingAndGlyphs" >1.07902</text>
<text x="1623.5" y="132" font-family="Liberation Sans, sans-serif" text-rendering="geometricPrecision" font-size="10" fill="#fff" stroke="#fff" stroke-width="0.2" text-anchor="start" textLength="33" lengthAdjust="spacingAndGlyphs" >1.08552</text>
<text x="1621.5" y="605" font-family="Liberation Sans, sans-serif" text-rendering="geometricPrecision" font-size="10" fill="#000" stroke="#000" stroke-width="0.2" text-anchor="start" textLength="28" lengthAdjust="spacingAndGlyphs" >0.0048</text>
<text x="1621.5" y="669" font-family="Liberation Sans, sans-serif" text-rendering="geometricPrecision" font-size="10" fill="#000" stroke="#000" stroke-width="0.2" text-anchor="start" textLength="18" lengthAdjust="spacingAndGlyphs" >0.00</text>
<text x="1621.5" y="702" font-family="Liberation Sans, sans-serif" text-rendering="geometricPrecision" font-size="10" fill="#000" stroke="#000" stroke-width="0.2" text-anchor="start" textLength="40" lengthAdjust="spacingAndGlyphs" >-0.002687</text>
<text x="1621.5" y="718" font-family="Liberation Sans, sans-serif" text-rendering="geometricPrecision" font-size="10" fill="#000" stroke="#000" stroke-width="0.2" text-anchor="start" textLength="14.5" lengthAdjust="spacingAndGlyphs" >100</text>
<text x="1620.5" y="734" font-family="Liberation Sans, sans-serif" text-rendering="geometricPrecision" font-size="10" fill="#000" stroke="#000" stroke-width="0.2" text-anchor="start" textLength="9" lengthAdjust="spacingAndGlyphs" >80</text>
<text x="1620.5" y="767" font-family="Liberation Sans, sans-serif" text-rendering="geometricPrecision" font-size="10" fill="#000" stroke="#000" stroke-width="0.2" text-anchor="start" textLength="9" lengthAdjust="spacingAndGlyphs" >50</text>
<text x="1620.5" y="805" font-family="Liberation Sans, sans-serif" text-rendering="geometricPrecision" font-size="10" fill="#000" stroke="#000" stroke-width="0.2" text-anchor="start" textLength="9" lengthAdjust="spacingAndGlyphs" >15</text>
<text x="1620.5" y="815.5" font-family="Liberation Sans, sans-serif" text-rendering="geometricPrecision" font-size="10" fill="#000" stroke="#000" stroke-width="0.2" text-anchor="start" textLength="4.5" lengthAdjust="spacingAndGlyphs" >0</text>
<polygon points="8,32 15,32 11.5,36" fill="#000"/>
<text x="20.3" y="37" font-family="Liberation Sans, sans-serif" text-rendering="geometricPrecision" font-size="10" fill="#000" stroke="#000" stroke-width="0.2" text-anchor="start" textLength="56" lengthAdjust="spacingAndGlyphs" >EURUSD-,H4</text>
<text x="83.6" y="37" font-family="Liberation Sans, sans-serif" text-rendering="geometricPrecision" font-size="10" fill="#000" stroke="#000" stroke-width="0.2" text-anchor="start" textLength="32" lengthAdjust="spacingAndGlyphs" >1.08649</text>
<text x="119.6" y="37" font-family="Liberation Sans, sans-serif" text-rendering="geometricPrecision" font-size="10" fill="#000" stroke="#000" stroke-width="0.2" text-anchor="start" textLength="32" lengthAdjust="spacingAndGlyphs" >1.08650</text>
<text x="155.5" y="37" font-family="Liberation Sans, sans-serif" text-rendering="geometricPrecision" font-size="10" fill="#000" stroke="#000" stroke-width="0.2" text-anchor="start" textLength="32" lengthAdjust="spacingAndGlyphs" >1.08541</text>
<text x="191.5" y="37" font-family="Liberation Sans, sans-serif" text-rendering="geometricPrecision" font-size="10" fill="#000" stroke="#000" stroke-width="0.2" text-anchor="start" textLength="32" lengthAdjust="spacingAndGlyphs" >1.08552</text>
<text x="9.5" y="607" font-family="Liberation Sans, sans-serif" text-rendering="geometricPrecision" font-size="10" fill="#000" stroke="#000" stroke-width="0.2" text-anchor="start" textLength="147" lengthAdjust="spacingAndGlyphs" >MACD(12,26,9) 0.004460 0.003442</text>
<text x="9.5" y="720" font-family="Liberation Sans, sans-serif" text-rendering="geometricPrecision" font-size="10" fill="#000" stroke="#000" stroke-width="0.2" text-anchor="start" textLength="67.5" lengthAdjust="spacingAndGlyphs" >RSI(14) 73.1205</text>
<text x="4.5" y="831" font-family="Liberation Sans, sans-serif" text-rendering="geometricPrecision" font-size="10" fill="#000" stroke="#000" stroke-width="0.2" text-anchor="start" textLength="46" lengthAdjust="spacingAndGlyphs" >1 Mar 2023</text>
<text x="68.5" y="831" font-family="Liberation Sans, sans-serif" text-rendering="geometricPrecision" font-size="10" fill="#000" stroke="#000" stroke-width="0.2" text-anchor="start" textLength="49" lengthAdjust="spacingAndGlyphs" >2 Mar 04:00</text>
<text x="132.5" y="831" font-family="Liberation Sans, sans-serif" text-rendering="geometricPrecision" font-size="10" fill="#000" stroke="#000" stroke-width="0.2" text-anchor="start" textLength="49" lengthAdjust="spacingAndGlyphs" >2 Mar 20:00</text>
<text x="196.5" y="831" font-family="Liberation Sans, sans-serif" text-rendering="geometricPrecision" font-size="10" fill="#000" stroke="#000" stroke-width="0.2" text-anchor="start" textLength="49" lengthAdjust="spacingAndGlyphs" >3 Mar 12:00</text>
<text x="260.5" y="831" font-family="Liberation Sans, sans-serif" text-rendering="geometricPrecision" font-size="10" fill="#000" stroke="#000" stroke-width="0.2" text-anchor="start" textLength="49" lengthAdjust="spacingAndGlyphs" >6 Mar 04:00</text>
<text x="324.5" y="831" font-family="Liberation Sans, sans-serif" text-rendering="geometricPrecision" font-size="10" fill="#000" stroke="#000" stroke-width="0.2" text-anchor="start" textLength="49" lengthAdjust="spacingAndGlyphs" >6 Mar 20:00</text>
<text x="388.5" y="831" font-family="Liberation Sans, sans-serif" text-rendering="geometricPrecision" font-size="10" fill="#000" stroke="#000" stroke-width="0.2" text-anchor="start" textLength="49" lengthAdjust="spacingAndGlyphs" >7 Mar 12:00</text>
<text x="452.5" y="831" font-family="Liberation Sans, sans-serif" text-rendering="geometricPrecision" font-size="10" fill="#000" stroke="#000" stroke-width="0.2" text-anchor="start" textLength="49" lengthAdjust="spacingAndGlyphs" >8 Mar 04:00</text>
<text x="516.5" y="831" font-family="Liberation Sans, sans-serif" text-rendering="geometricPrecision" font-size="10" fill="#000" stroke="#000" stroke-width="0.2" text-anchor="start" textLength="49" lengthAdjust="spacingAndGlyphs" >8 Mar 20:00</text>
<text x="580.5" y="831" font-family="Liberation Sans, sans-serif" text-rendering="geometricPrecision" font-size="10" fill="#000" stroke="#000" stroke-width="0.2" text-anchor="start" textLength="49" lengthAdjust="spacingAndGlyphs" >9 Mar 12:00</text>
<text x="644.5" y="831" font-family="Liberation Sans, sans-serif" text-rendering="geometricPrecision" font-size="10" fill="#000" stroke="#000" stroke-width="0.2" text-anchor="start" textLength="54.5" lengthAdjust="spacingAndGlyphs" >10 Mar 04:00</text>
<text x="708.5" y="831" font-family="Liberation Sans, sans-serif" text-rendering="geometricPrecision" font-size="10" fill="#000" stroke="#000" stroke-width="0.2" text-anchor="start" textLength="54.5" lengthAdjust="spacingAndGlyphs" >12 Mar 23:00</text>
<text x="772.5" y="831" font-family="Liberation Sans, sans-serif" text-rendering="geometricPrecision" font-size="10" fill="#000" stroke="#000" stroke-width="0.2" text-anchor="start" textLength="54.5" lengthAdjust="spacingAndGlyphs" >13 Mar 12:00</text>
<text x="836.5" y="831" font-family="Liberation Sans, sans-serif" text-rendering="geometricPrecision" font-size="10" fill="#000" stroke="#000" stroke-width="0.2" text-anchor="start" textLength="54.5" lengthAdjust="spacingAndGlyphs" >14 Mar 04:00</text>
<text x="900.5" y="831" font-family="Liberation Sans, sans-serif" text-rendering="geometricPrecision" font-size="10" fill="#000" stroke="#000" stroke-width="0.2" text-anchor="start" textLength="54.5" lengthAdjust="spacingAndGlyphs" >14 Mar 20:00</text>
<text x="964.5" y="831" font-family="Liberation Sans, sans-serif" text-rendering="geometricPrecision" font-size="10" fill="#000" stroke="#000" stroke-width="0.2" text-anchor="start" textLength="54.5" lengthAdjust="spacingAndGlyphs" >15 Mar 12:00</text>
<text x="1028.5" y="831" font-family="Liberation Sans, sans-serif" text-rendering="geometricPrecision" font-size="10" fill="#000" stroke="#000" stroke-width="0.2" text-anchor="start" textLength="54.5" lengthAdjust="spacingAndGlyphs" >16 Mar 04:00</text>
<text x="1092.5" y="831" font-family="Liberation Sans, sans-serif" text-rendering="geometricPrecision" font-size="10" fill="#000" stroke="#000" stroke-width="0.2" text-anchor="start" textLength="54.5" lengthAdjust="spacingAndGlyphs" >16 Mar 20:00</text>
<text x="1156.5" y="831" font-family="Liberation Sans, sans-serif" text-rendering="geometricPrecision" font-size="10" fill="#000" stroke="#000" stroke-width="0.2" text-anchor="start" textLength="54.5" lengthAdjust="spacingAndGlyphs" >17 Mar 12:00</text>
<text x="1220.5" y="831" font-family="Liberation Sans, sans-serif" text-rendering="geometricPrecision" font-size="10" fill="#000" stroke="#000" stroke-width="0.2" text-anchor="start" textLength="54.5" lengthAdjust="spacingAndGlyphs" >20 Mar 04:00</text>
<text x="1284.5" y="831" font-family="Liberation Sans, sans-serif" text-rendering="geometricPrecision" font-size="10" fill="#000" stroke="#000" stroke-width="0.2" text-anchor="start" textLength="54.5" lengthAdjust="spacingAndGlyphs" >20 Mar 20:00</text>
<text x="1348.5" y="831" font-family="Liberation Sans, sans-serif" text-rendering="geometricPrecision" font-size="10" fill="#000" stroke="#000" stroke-width="0.2" text-anchor="start" textLength="54.5" lengthAdjust="spacingAndGlyphs" >21 Mar 12:00</text>
<text x="1412.5" y="831" font-family="Liberation Sans, sans-serif" text-rendering="geometricPrecision" font-size="10" fill="#000" stroke="#000" stroke-width="0.2" text-anchor="start" textLength="54.5" lengthAdjust="spacingAndGlyphs" >22 Mar 04:00</text>
<text x="1476.5" y="831" font-family="Liberation Sans, sans-serif" text-rendering="geometricPrecision" font-size="10" fill="#000" stroke="#000" stroke-width="0.2" text-anchor="start" textLength="54.5" lengthAdjust="spacingAndGlyphs" >22 Mar 20:00</text>
</svg>
<svg width="1665" height="21" viewBox="0 0 1665 21" style="position:absolute;left:0;top:0">
<defs>
<pattern id="chk" width="2" height="2" patternUnits="userSpaceOnUse"><rect width="2" height="2" fill="#ffffff"/><rect width="1" height="1" fill="#f0f0f0"/><rect x="1" y="1" width="1" height="1" fill="#f0f0f0"/></pattern>
<linearGradient id="gold" x1="0" y1="0" x2="1" y2="1"><stop offset="0" stop-color="#ffe680"/><stop offset="0.5" stop-color="#f0c020"/><stop offset="1" stop-color="#c08010"/></linearGradient>
<linearGradient id="blu" x1="0" y1="0" x2="0" y2="1"><stop offset="0" stop-color="#1040c0"/><stop offset="1" stop-color="#4080e8"/></linearGradient>
<linearGradient id="grn" x1="0" y1="0" x2="0" y2="1"><stop offset="0" stop-color="#208010"/><stop offset="1" stop-color="#50b020"/></linearGradient>
<radialGradient id="redc" cx="0.4" cy="0.3" r="0.8"><stop offset="0" stop-color="#f05838"/><stop offset="1" stop-color="#d82810"/></radialGradient>
<radialGradient id="lens" cx="0.4" cy="0.35" r="0.7"><stop offset="0" stop-color="#ffffff"/><stop offset="1" stop-color="#b8e0f8"/></radialGradient>
</defs>
<rect x="0" y="0" width="1665" height="21" fill="#f0f0f0"/>
<rect x="0" y="3" width="1" height="15" fill="#d8d8d8"/>
<rect x="-1" y="11.4" width="4.6" height="3.4" fill="#00dc00" stroke="#109010" stroke-width="0.8"/>
<text x="6.7" y="12.3" font-family="Liberation Sans, Noto Sans CJK SC, sans-serif" font-size="11.6" fill="#000" textLength="36.4" lengthAdjust="spacing">新订单</text>
<g><path d="M60.3 1.9 L71.1 8.8 L70.7 11.7 L62.8 16.9 L54.9 10.9 C57.6 8.8 59.2 5.4 60.3 1.9 Z" fill="#a86c14"/><path d="M60.8 3.2 L70 9 L62.9 14 L56.4 10.3 C58.4 8.4 59.8 5.8 60.8 3.2 Z" fill="url(#gold)"/><path d="M56 11 L62.8 15.6 L70.2 10.6" fill="none" stroke="#f8e090" stroke-width="0.9"/></g>
<g><path d="M85.3 2.6 L88.4 1.2 L96.1 2 L96.1 11 L85.3 11 Z" fill="#1e9cf4"/><path d="M85.3 2.6 L88.4 1.2 L88.4 11 L85.3 11 Z" fill="#0878d8"/><path d="M88.6 1.4 L88.6 10" stroke="#c8ecff" stroke-width="0.6"/><rect x="89.9" y="4.6" width="5.3" height="2.4" fill="#e8f6ff"/><rect x="91" y="5.4" width="3.6" height="0.8" fill="#58a8e8"/><path d="M86.2 16.4 C82.8 16.4 82.6 12.4 85.8 12.2 C85.4 9.6 89 9 90.2 10.8 C91.6 8.6 95.2 9.4 95.4 12 C99 11.4 99.8 16.4 96.4 16.4 Z" fill="#e6ecf6" stroke="#4868a8" stroke-width="0.9"/><path d="M86 15.6 L96.6 15.6" stroke="#b8c4dc" stroke-width="0.9"/></g>
<g fill="none"><path d="M119.2 1.4 A7.5 7.5 0 0 0 119.2 16.4" stroke="#7898e0" stroke-width="1.2" opacity="0.7"/><path d="M119.2 3.6 A5.3 5.3 0 0 0 119.2 14.2" stroke="#3868d8" stroke-width="1.2"/><path d="M119.2 5.9 A3 3 0 0 0 119.2 11.9" stroke="#3060d0" stroke-width="1.2"/><path d="M119.2 1.4 A7.5 7.5 0 0 1 126.7 8.9" stroke="#88b8a8" stroke-width="1.2" opacity="0.8"/><path d="M119.2 3.6 A5.3 5.3 0 0 1 124.5 8.9" stroke="#70a8a0" stroke-width="1.2" opacity="0.8"/><path d="M119.2 5.9 A3 3 0 0 1 122.2 8.9" stroke="#5080c0" stroke-width="1.2"/><path d="M119.2 8.9 L126.9 8.9 A7.7 7.7 0 0 1 119.2 16.6 Z" fill="#58a858" opacity="0.75"/><path d="M121.2 8.9 A2 2 0 0 1 119.2 10.9 M123.6 8.9 A4.4 4.4 0 0 1 119.2 13.3" stroke="#c8e8c8" stroke-width="0.9" opacity="0.8"/><circle cx="119.2" cy="8.7" r="1.5" fill="#2050c8"/><rect x="118.6" y="8.9" width="1.3" height="7.9" fill="#20a020"/></g>
<g><path d="M138.6 8 L153.8 8 L152 12.4 L146 16.9 L141.4 13.4 Z" fill="#f4d030" stroke="#c89818" stroke-width="0.6"/><path d="M140 9 L147.4 9 L144.4 14.6 Z" fill="#fff6b0" opacity="0.85"/><path d="M138 6.6 C138.4 3.4 142 4.6 142.6 4.6 C143 0.2 149.4 0.2 149.6 4 C151.6 3 154.6 3.4 153.8 5.8 C152.8 8.6 147.6 9.2 144.8 9 C141.6 8.8 137.8 8.8 138 6.6 Z" fill="#68b4e0" stroke="#2c88b8" stroke-width="0.7"/><path d="M143.4 4.8 C144 2 148.4 1.8 149 4.4 C147.6 5.8 144.8 6 143.4 4.8 Z" fill="#a8daf4" opacity="0.8"/><circle cx="150.7" cy="12.7" r="4.3" fill="#e02810"/><circle cx="150.7" cy="12.7" r="4.3" fill="none" stroke="#b81808" stroke-width="0.6"/><rect x="149.1" y="11.1" width="3.1" height="3.1" fill="#fff"/></g>
<text x="158.9" y="12.3" font-family="Liberation Sans, Noto Sans CJK SC, sans-serif" font-size="11.6" fill="#000" textLength="47.6" lengthAdjust="spacing">自动交易</text>
<rect x="214" y="0" width="1" height="21" fill="#a0a0a0" shape-rendering="crispEdges"/>
<rect x="215" y="0" width="1" height="21" fill="#ffffff" shape-rendering="crispEdges"/>
<rect x="218" y="1" width="3" height="1" fill="#a8a8a8" shape-rendering="crispEdges"/>
<rect x="218" y="2" width="3" height="1" fill="#fafafa" shape-rendering="crispEdges"/>
<rect x="218" y="3" width="3" height="1" fill="#a8a8a8" shape-rendering="crispEdges"/>
<rect x="218" y="4" width="3" height="1" fill="#fafafa" shape-rendering="crispEdges"/>
<rect x="218" y="5" width="3" height="1" fill="#a8a8a8" shape-rendering="crispEdges"/>
<rect x="218" y="6" width="3" height="1" fill="#fafafa" shape-rendering="crispEdges"/>
<rect x="218" y="7" width="3" height="1" fill="#a8a8a8" shape-rendering="crispEdges"/>
<rect x="218" y="8" width="3" height="1" fill="#fafafa" shape-rendering="crispEdges"/>
<rect x="218" y="9" width="3" height="1" fill="#a8a8a8" shape-rendering="crispEdges"/>
<rect x="218" y="10" width="3" height="1" fill="#fafafa" shape-rendering="crispEdges"/>
<rect x="218" y="11" width="3" height="1" fill="#a8a8a8" shape-rendering="crispEdges"/>
<rect x="218" y="12" width="3" height="1" fill="#fafafa" shape-rendering="crispEdges"/>
<rect x="218" y="13" width="3" height="1" fill="#a8a8a8" shape-rendering="crispEdges"/>
<rect x="218" y="14" width="3" height="1" fill="#fafafa" shape-rendering="crispEdges"/>
<rect x="218" y="15" width="3" height="1" fill="#a8a8a8" shape-rendering="crispEdges"/>
<rect x="218" y="16" width="3" height="1" fill="#fafafa" shape-rendering="crispEdges"/>
<rect x="218" y="17" width="3" height="1" fill="#a8a8a8" shape-rendering="crispEdges"/>
<rect x="218" y="18" width="3" height="1" fill="#fafafa" shape-rendering="crispEdges"/>
<g fill="#505050" shape-rendering="crispEdges"><rect x="232" y="4" width="1" height="13"/><rect x="230" y="14" width="13" height="1"/><rect x="231" y="4" width="3" height="1"/><rect x="232" y="3" width="1" height="1"/><rect x="242" y="13" width="1" height="3"/><rect x="243" y="14" width="1" height="1"/></g>
<g fill="#109010" shape-rendering="crispEdges"><rect x="238" y="5" width="1" height="8"/><rect x="239" y="5" width="2" height="1"/><rect x="236" y="11" width="2" height="1"/></g>
<rect x="252" y="0" width="1" height="19" fill="#a0a0a0" shape-rendering="crispEdges"/>
<rect x="253" y="0" width="1" height="19" fill="#ffffff" shape-rendering="crispEdges"/>
<rect x="253" y="0" width="24" height="19" fill="url(#chk)" shape-rendering="crispEdges"/>
<rect x="277" y="0" width="1" height="20" fill="#ffffff" shape-rendering="crispEdges"/>
<rect x="253" y="19" width="24" height="1" fill="#ffffff" shape-rendering="crispEdges"/>
<g fill="#505050" shape-rendering="crispEdges"><rect x="260" y="4" width="1" height="13"/><rect x="258" y="14" width="13" height="1"/><rect x="259" y="4" width="3" height="1"/><rect x="260" y="3" width="1" height="1"/><rect x="270" y="13" width="1" height="3"/><rect x="271" y="14" width="1" height="1"/></g>
<g shape-rendering="crispEdges"><rect x="266" y="1" width="1" height="12" fill="#109010"/><rect x="264" y="3" width="5" height="8" fill="#109010"/><rect x="265" y="4" width="3" height="6" fill="#40e040"/></g>
<g fill="#505050" shape-rendering="crispEdges"><rect x="288" y="4" width="1" height="13"/><rect x="286" y="14" width="13" height="1"/><rect x="287" y="4" width="3" height="1"/><rect x="288" y="3" width="1" height="1"/><rect x="298" y="13" width="1" height="3"/><rect x="299" y="14" width="1" height="1"/></g>
<path d="M287.5 12 C290 10 292 6.2 294 6.2 C296 6.2 297 9.6 300 10.4" fill="none" stroke="#30a030" stroke-width="1.1"/>
<rect x="309" y="0" width="1" height="19" fill="#a0a0a0" shape-rendering="crispEdges"/>
<rect x="310" y="0" width="1" height="19" fill="#ffffff" shape-rendering="crispEdges"/>
<g><path d="M328 11 L332.8 15.6" stroke="#a07810" stroke-width="3.2" stroke-linecap="round"/><path d="M328.2 10.8 L332.6 15.1" stroke="#f0d040" stroke-width="1.7" stroke-linecap="round"/><circle cx="324" cy="7" r="5.6" fill="url(#lens)" stroke="#2870c8" stroke-width="1.2"/><rect x="320.8" y="6.2" width="6.4" height="1.7" fill="#3880b8"/><rect x="323.15" y="3.8" width="1.7" height="6.4" fill="#3880b8"/></g>
<g><path d="M356 11 L360.8 15.6" stroke="#a07810" stroke-width="3.2" stroke-linecap="round"/><path d="M356.2 10.8 L360.6 15.1" stroke="#f0d040" stroke-width="1.7" stroke-linecap="round"/><circle cx="352" cy="7" r="5.6" fill="url(#lens)" stroke="#2870c8" stroke-width="1.2"/><rect x="348.8" y="6.2" width="6.4" height="1.7" fill="#3880b8"/></g>
<g shape-rendering="crispEdges"><rect x="374" y="1" width="8" height="8" fill="url(#grn)"/><rect x="375" y="2" width="1" height="1" fill="#e0f0ff"/><rect x="375" y="5" width="6" height="3" fill="#f4f8ff"/><rect x="376" y="6" width="4" height="1" fill="#a0d080"/></g>
<g shape-rendering="crispEdges"><rect x="382" y="1" width="8" height="8" fill="url(#blu)"/><rect x="383" y="2" width="1" height="1" fill="#e0f0ff"/><rect x="383" y="5" width="6" height="3" fill="#f4f8ff"/><rect x="384" y="6" width="4" height="1" fill="#90b0f0"/></g>
<g shape-rendering="crispEdges"><rect x="374" y="9" width="8" height="8" fill="url(#blu)"/><rect x="375" y="10" width="1" height="1" fill="#e0f0ff"/><rect x="375" y="13" width="6" height="3" fill="#f4f8ff"/><rect x="376" y="14" width="4" height="1" fill="#90b0f0"/></g>
<g shape-rendering="crispEdges"><rect x="382" y="9" width="8" height="8" fill="url(#grn)"/><rect x="383" y="10" width="1" height="1" fill="#e0f0ff"/><rect x="383" y="13" width="6" height="3" fill="#f4f8ff"/><rect x="384" y="14" width="4" height="1" fill="#a0d080"/></g>
<rect x="399" y="0" width="1" height="19" fill="#a0a0a0" shape-rendering="crispEdges"/>
<rect x="400" y="0" width="1" height="19" fill="#ffffff" shape-rendering="crispEdges"/>
<rect x="404" y="0" width="1" height="19" fill="#a0a0a0" shape-rendering="crispEdges"/>
<rect x="405" y="0" width="1" height="19" fill="#ffffff" shape-rendering="crispEdges"/>
<rect x="405" y="0" width="24" height="19" fill="url(#chk)" shape-rendering="crispEdges"/>
<rect x="429" y="0" width="1" height="20" fill="#ffffff" shape-rendering="crispEdges"/>
<rect x="405" y="19" width="24" height="1" fill="#ffffff" shape-rendering="crispEdges"/>
<g fill="#505050" shape-rendering="crispEdges"><rect x="412" y="4" width="1" height="13"/><rect x="410" y="14" width="13" height="1"/><rect x="411" y="4" width="3" height="1"/><rect x="412" y="3" width="1" height="1"/><rect x="422" y="13" width="1" height="3"/><rect x="423" y="14" width="1" height="1"/></g>
<path d="M417.4 5.6 L421 8.6 L417.4 11.6 Z" fill="#70e870" stroke="#109010" stroke-width="0.9"/>
<rect x="432" y="0" width="1" height="19" fill="#a0a0a0" shape-rendering="crispEdges"/>
<rect x="433" y="0" width="1" height="19" fill="#ffffff" shape-rendering="crispEdges"/>
<rect x="433" y="0" width="24" height="19" fill="url(#chk)" shape-rendering="crispEdges"/>
<rect x="457" y="0" width="1" height="20" fill="#ffffff" shape-rendering="crispEdges"/>
<rect x="433" y="19" width="24" height="1" fill="#ffffff" shape-rendering="crispEdges"/>
<g fill="#505050" shape-rendering="crispEdges"><rect x="440" y="4" width="1" height="13"/><rect x="438" y="14" width="13" height="1"/><rect x="439" y="4" width="3" height="1"/><rect x="440" y="3" width="1" height="1"/><rect x="450" y="13" width="1" height="3"/><rect x="451" y="14" width="1" height="1"/></g>
<rect x="446" y="3" width="1" height="10" fill="#1060b0" shape-rendering="crispEdges"/>
<path d="M447.6 8.5 L450.6 6 L450.2 8 L452.4 8 L452.4 9 L450.2 9 L450.6 11 Z" fill="#e04808" stroke="#e04808" stroke-width="0.4"/>
<rect x="461" y="0" width="1" height="19" fill="#a0a0a0" shape-rendering="crispEdges"/>
<rect x="462" y="0" width="1" height="19" fill="#ffffff" shape-rendering="crispEdges"/>
<g><path d="M471.5 1.8 L479.5 1.8 L482.6 4.8 L482.6 14 L471.5 14 Z" fill="#fcfcfc" stroke="#a0a0a0" stroke-width="0.9"/><path d="M479.5 1.8 L479.5 4.8 L482.6 4.8" fill="#e8e8e8" stroke="#a0a0a0" stroke-width="0.6"/><path d="M475.5 4.6 C473.6 4.6 474.6 8 473.4 8.2 C474.6 8.4 473.6 11.8 475.5 11.8" fill="none" stroke="#505050" stroke-width="0.9"/><path d="M479.2 7.4 h3.6 v3.8 h3.9 v3.6 h-3.9 v3.8 h-3.6 v-3.8 h-3.8 v-3.6 h3.8 z" fill="#30d830" stroke="#109818" stroke-width="0.9"/><path d="M480 8.2 h2 v3.8 h3.8" fill="none" stroke="#a0f8a0" stroke-width="0.8"/></g>
<path d="M493 8h5v1h-1v1h-1v1h-1v-1h-1v-1h-1z" fill="#000" shape-rendering="crispEdges"/>
<g><circle cx="517" cy="9" r="6.9" fill="#fdfdfd" stroke="#1464cc" stroke-width="2.3"/><path d="M511.2 4.6 A7.4 7.4 0 0 1 521 2.8" stroke="#58a0f0" stroke-width="1" fill="none"/><circle cx="517" cy="9" r="8" fill="none" stroke="#0a48a0" stroke-width="0.5"/><path d="M516.5 5.6 V9.5 H519.6" stroke="#202020" stroke-width="1" fill="none"/><g fill="#a0a0a0"><circle cx="517" cy="4" r="0.45"/><circle cx="517" cy="14" r="0.45"/><circle cx="512" cy="9" r="0.45"/><circle cx="522" cy="9" r="0.45"/><circle cx="513.5" cy="5.5" r="0.4"/><circle cx="520.5" cy="5.5" r="0.4"/><circle cx="513.5" cy="12.5" r="0.4"/><circle cx="520.5" cy="12.5" r="0.4"/></g><path d="M515.4 12 h3" stroke="#90c0f0" stroke-width="0.6"/></g>
<path d="M532 8h5v1h-1v1h-1v1h-1v-1h-1v-1h-1z" fill="#000" shape-rendering="crispEdges"/>
<g><rect x="548.5" y="2.5" width="15" height="13" fill="#ffffff" stroke="#3878c8" stroke-width="1"/><rect x="549" y="3" width="14" height="2" fill="#5898e0"/><rect x="549" y="9.6" width="14" height="1" fill="#5898e0"/><path d="M550 8.2 L552 8.2 L554 6.6 L556 6.6 L557.5 7.6 L559.5 7.6 L561 6.6 L562.4 6.6" fill="none" stroke="#a02010" stroke-width="1.1"/><path d="M550.6 13.4 L552.4 13.4 L554 12.4 L555.4 13.4 L557 13.4 L559 11.4 L560.4 11.4 L562 13.4" fill="none" stroke="#109020" stroke-width="1.1"/></g>
<path d="M571 8h5v1h-1v1h-1v1h-1v-1h-1v-1h-1z" fill="#000" shape-rendering="crispEdges"/>
<rect x="582" y="0" width="1" height="21" fill="#a0a0a0" shape-rendering="crispEdges"/>
<rect x="583" y="0" width="1" height="21" fill="#ffffff" shape-rendering="crispEdges"/>
<rect x="586" y="1" width="3" height="1" fill="#a8a8a8" shape-rendering="crispEdges"/>
<rect x="586" y="2" width="3" height="1" fill="#fafafa" shape-rendering="crispEdges"/>
<rect x="586" y="3" width="3" height="1" fill="#a8a8a8" shape-rendering="crispEdges"/>
<rect x="586" y="4" width="3" height="1" fill="#fafafa" shape-rendering="crispEdges"/>
<rect x="586" y="5" width="3" height="1" fill="#a8a8a8" shape-rendering="crispEdges"/>
<rect x="586" y="6" width="3" height="1" fill="#fafafa" shape-rendering="crispEdges"/>
<rect x="586" y="7" width="3" height="1" fill="#a8a8a8" shape-rendering="crispEdges"/>
<rect x="586" y="8" width="3" height="1" fill="#fafafa" shape-rendering="crispEdges"/>
<rect x="586" y="9" width="3" height="1" fill="#a8a8a8" shape-rendering="crispEdges"/>
<rect x="586" y="10" width="3" height="1" fill="#fafafa" shape-rendering="crispEdges"/>
<rect x="586" y="11" width="3" height="1" fill="#a8a8a8" shape-rendering="crispEdges"/>
<rect x="586" y="12" width="3" height="1" fill="#fafafa" shape-rendering="crispEdges"/>
<rect x="586" y="13" width="3" height="1" fill="#a8a8a8" shape-rendering="crispEdges"/>
<rect x="586" y="14" width="3" height="1" fill="#fafafa" shape-rendering="crispEdges"/>
<rect x="586" y="15" width="3" height="1" fill="#a8a8a8" shape-rendering="crispEdges"/>
<rect x="586" y="16" width="3" height="1" fill="#fafafa" shape-rendering="crispEdges"/>
<rect x="586" y="17" width="3" height="1" fill="#a8a8a8" shape-rendering="crispEdges"/>
<rect x="586" y="18" width="3" height="1" fill="#fafafa" shape-rendering="crispEdges"/>
<rect x="592" y="0" width="1" height="19" fill="#a0a0a0" shape-rendering="crispEdges"/>
<rect x="593" y="0" width="1" height="19" fill="#ffffff" shape-rendering="crispEdges"/>
<rect x="593" y="0" width="24" height="19" fill="url(#chk)" shape-rendering="crispEdges"/>
<rect x="617" y="0" width="1" height="20" fill="#ffffff" shape-rendering="crispEdges"/>
<rect x="593" y="19" width="24" height="1" fill="#ffffff" shape-rendering="crispEdges"/>
<path d="M600.2 1.8 L600.2 13 L602.8 10.6 L605 15.9 L606.6 15.2 L604.4 10 L607.9 9.6 Z" fill="#505050"/>
<g fill="#505050" shape-rendering="crispEdges"><rect x="625" y="9" width="6" height="1"/><rect x="634" y="9" width="6" height="1"/><rect x="632" y="2" width="1" height="6"/><rect x="632" y="11" width="1" height="6"/><rect x="632" y="9" width="1" height="1" fill="#909090"/></g>
<rect x="649" y="0" width="1" height="19" fill="#a0a0a0" shape-rendering="crispEdges"/>
<rect x="650" y="0" width="1" height="19" fill="#ffffff" shape-rendering="crispEdges"/>
<rect x="666" y="3" width="1" height="13" fill="#505050" shape-rendering="crispEdges"/>
<rect x="689" y="9" width="12" height="1" fill="#505050" shape-rendering="crispEdges"/>
<path d="M716.8 16 L729.2 3.8" stroke="#505050" stroke-width="1.1" fill="none"/>
<g stroke="#505050" stroke-width="1.1" fill="none"><path d="M742.6 10.8 L753.4 1.4"/><path d="M744.4 15.8 L757 4.8"/><path d="M743.4 13.2 L755.4 2.8"/><path d="M745.6 8 L747 14 M748.4 5.6 L749.8 11.6 M751.2 3.2 L752.6 9.2 M754 1.6 L755 6.6" stroke-width="1"/></g>
<text x="753.6" y="17.8" font-family="Liberation Sans, sans-serif" font-size="6.5" font-weight="bold" fill="#404040">E</text>
<line x1="772" y1="2.5" x2="786" y2="2.5" stroke="#505050" stroke-width="1" stroke-dasharray="1 1" shape-rendering="crispEdges"/>
<line x1="772" y1="5.5" x2="786" y2="5.5" stroke="#505050" stroke-width="1" stroke-dasharray="1 1" shape-rendering="crispEdges"/>
<line x1="772" y1="9.5" x2="786" y2="9.5" stroke="#505050" stroke-width="1" stroke-dasharray="1 1" shape-rendering="crispEdges"/>
<line x1="772" y1="13.5" x2="781" y2="13.5" stroke="#505050" stroke-width="1" stroke-dasharray="1 1" shape-rendering="crispEdges"/>
<text x="781.4" y="17.8" font-family="Liberation Sans, sans-serif" font-size="6.5" font-weight="bold" fill="#404040">F</text>
<text x="806.6" y="13.9" text-anchor="middle" font-family="Liberation Sans, sans-serif" text-rendering="geometricPrecision" font-size="12.6" fill="#585858" stroke="#585858" stroke-width="0.45">A</text>
<rect x="829.5" y="2.5" width="11" height="13" fill="none" stroke="#505050" stroke-width="1" stroke-dasharray="1 1" shape-rendering="crispEdges"/>
<g fill="#585858"><rect x="830.8" y="5.9" width="8.4" height="1.3"/><rect x="834.3" y="5.9" width="1.4" height="7.7"/></g>
<g fill="#505050"><path d="M859.5 3.4 L863 6.6 L859.5 8.2 L856 6.6 Z"/><path d="M866.5 15.9 L870 12.6 L866.5 11 L863 12.6 Z"/><path d="M858.6 10.6 L860.6 12.6 L866 7.2" fill="none" stroke="#505050" stroke-width="1.2"/></g>
<path d="M877 8h5v1h-1v1h-1v1h-1v-1h-1v-1h-1z" fill="#000" shape-rendering="crispEdges"/>
<rect x="888" y="0" width="1" height="21" fill="#a0a0a0" shape-rendering="crispEdges"/>
<rect x="889" y="0" width="1" height="21" fill="#ffffff" shape-rendering="crispEdges"/>
<rect x="892" y="1" width="3" height="1" fill="#a8a8a8" shape-rendering="crispEdges"/>
<rect x="892" y="2" width="3" height="1" fill="#fafafa" shape-rendering="crispEdges"/>
<rect x="892" y="3" width="3" height="1" fill="#a8a8a8" shape-rendering="crispEdges"/>
<rect x="892" y="4" width="3" height="1" fill="#fafafa" shape-rendering="crispEdges"/>
<rect x="892" y="5" width="3" height="1" fill="#a8a8a8" shape-rendering="crispEdges"/>
<rect x="892" y="6" width="3" height="1" fill="#fafafa" shape-rendering="crispEdges"/>
<rect x="892" y="7" width="3" height="1" fill="#a8a8a8" shape-rendering="crispEdges"/>
<rect x="892" y="8" width="3" height="1" fill="#fafafa" shape-rendering="crispEdges"/>
<rect x="892" y="9" width="3" height="1" fill="#a8a8a8" shape-rendering="crispEdges"/>
<rect x="892" y="10" width="3" height="1" fill="#fafafa" shape-rendering="crispEdges"/>
<rect x="892" y="11" width="3" height="1" fill="#a8a8a8" shape-rendering="crispEdges"/>
<rect x="892" y="12" width="3" height="1" fill="#fafafa" shape-rendering="crispEdges"/>
<rect x="892" y="13" width="3" height="1" fill="#a8a8a8" shape-rendering="crispEdges"/>
<rect x="892" y="14" width="3" height="1" fill="#fafafa" shape-rendering="crispEdges"/>
<rect x="892" y="15" width="3" height="1" fill="#a8a8a8" shape-rendering="crispEdges"/>
<rect x="892" y="16" width="3" height="1" fill="#fafafa" shape-rendering="crispEdges"/>
<rect x="892" y="17" width="3" height="1" fill="#a8a8a8" shape-rendering="crispEdges"/>
<rect x="892" y="18" width="3" height="1" fill="#fafafa" shape-rendering="crispEdges"/>
<text x="909.9" y="13" text-anchor="middle" font-family="Liberation Sans, sans-serif" text-rendering="geometricPrecision" font-size="10" fill="#404040" textLength="12.2" lengthAdjust="spacingAndGlyphs">M1</text>
<text x="937.9" y="13" text-anchor="middle" font-family="Liberation Sans, sans-serif" text-rendering="geometricPrecision" font-size="10" fill="#404040" textLength="12.4" lengthAdjust="spacingAndGlyphs">M5</text>
<text x="966.3" y="13" text-anchor="middle" font-family="Liberation Sans, sans-serif" text-rendering="geometricPrecision" font-size="10" fill="#404040" textLength="17.5" lengthAdjust="spacingAndGlyphs">M15</text>
<text x="994.3" y="13" text-anchor="middle" font-family="Liberation Sans, sans-serif" text-rendering="geometricPrecision" font-size="10" fill="#404040" textLength="17.4" lengthAdjust="spacingAndGlyphs">M30</text>
<text x="1022.4" y="13" text-anchor="middle" font-family="Liberation Sans, sans-serif" text-rendering="geometricPrecision" font-size="10" fill="#404040" textLength="11.8" lengthAdjust="spacingAndGlyphs">H1</text>
<rect x="1038" y="0" width="1" height="19" fill="#a0a0a0" shape-rendering="crispEdges"/>
<rect x="1039" y="0" width="1" height="19" fill="#ffffff" shape-rendering="crispEdges"/>
<rect x="1039" y="0" width="24" height="19" fill="url(#chk)" shape-rendering="crispEdges"/>
<rect x="1063" y="0" width="1" height="20" fill="#ffffff" shape-rendering="crispEdges"/>
<rect x="1039" y="19" width="24" height="1" fill="#ffffff" shape-rendering="crispEdges"/>
<text x="1049.7" y="13" text-anchor="middle" font-family="Liberation Sans, sans-serif" text-rendering="geometricPrecision" font-size="10" fill="#404040" textLength="12" lengthAdjust="spacingAndGlyphs">H4</text>
<text x="1078.4" y="13" text-anchor="middle" font-family="Liberation Sans, sans-serif" text-rendering="geometricPrecision" font-size="10" fill="#404040" textLength="11.4" lengthAdjust="spacingAndGlyphs">D1</text>
<text x="1107.2" y="13" text-anchor="middle" font-family="Liberation Sans, sans-serif" text-rendering="geometricPrecision" font-size="10" fill="#404040" textLength="14.4" lengthAdjust="spacingAndGlyphs">W1</text>
<text x="1134" y="13" text-anchor="middle" font-family="Liberation Sans, sans-serif" text-rendering="geometricPrecision" font-size="10" fill="#404040" textLength="14.6" lengthAdjust="spacingAndGlyphs">MN</text>
<rect x="1149" y="0" width="1" height="21" fill="#a0a0a0" shape-rendering="crispEdges"/>
<rect x="1150" y="0" width="1" height="21" fill="#ffffff" shape-rendering="crispEdges"/>
<g><path d="M1616.8 9 L1612.2 13.6" stroke="#2858d0" stroke-width="2.6" stroke-linecap="round"/><circle cx="1619.6" cy="6.2" r="3.9" fill="#f4f6ff" stroke="#2858d0" stroke-width="1.5"/></g>
<g><path d="M1637 11 C1637 7.4 1640 6.2 1643 6.2 C1646.6 6.2 1648.4 8.4 1648.4 11 C1648.4 13.8 1645.6 15.2 1642.4 15.2 L1640 17.6 L1639.8 14.8 C1638 14.2 1637 12.8 1637 11 Z" fill="#e4e4ec" stroke="#b4b4bc" stroke-width="0.8"/><circle cx="1650.6" cy="6.2" r="8.2" fill="url(#redc)"/><text x="1650.4" y="11" text-anchor="middle" font-family="Liberation Sans, sans-serif" font-size="12.5" fill="#ffffff">1</text></g>
</svg>
</body></html>
